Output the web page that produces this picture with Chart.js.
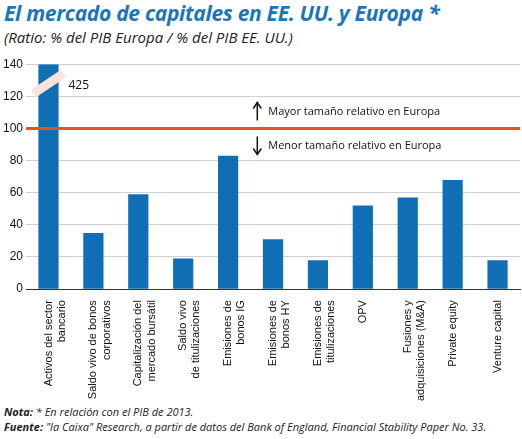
<!DOCTYPE html>
<html lang="es">
<head>
<meta charset="UTF-8">
<title>El mercado de capitales en EE. UU. y Europa</title>
<style>
    * { box-sizing: border-box; margin: 0; padding: 0; }
    body { width: 522px; height: 439px; background: #fff; font-family: "Open Sans", Arial, sans-serif; position: relative; overflow: hidden; }
    h1 { position: absolute; left: 4px; top: -1px; font-size: 21px; font-style: italic; font-weight: bold; color: #1b75bc; letter-spacing: -0.3px; }
    .sub { position: absolute; left: 4px; top: 27px; font-size: 15px; font-style: italic; color: #222; }
    #wrap { position: absolute; left: 0; top: 54px; width: 522px; height: 350px; }
    .notes { position: absolute; left: 4px; top: 404px; font-size: 11px; font-style: italic; color: #222; line-height: 15px; }
</style>
<script src="https://cdn.jsdelivr.net/npm/chart.js"></script>
</head>
<body>
<h1>El mercado de capitales en EE. UU. y Europa *</h1>
<div class="sub">(Ratio: % del PIB Europa / % del PIB EE. UU.)</div>
<div id="wrap"><canvas id="c"></canvas></div>
<div class="notes">
    <b>Nota:</b> * En relación con el PIB de 2013.<br>
    <b>Fuente:</b> "la Caixa" Research, a partir de datos del Bank of England, Financial Stability Paper No. 33.
</div>
<script>
const categories = [
    ['Activos del sector', 'bancario'],
    ['Saldo vivo de bonos', 'corporativos'],
    ['Capitalización del', 'mercado bursátil'],
    ['Saldo vivo', 'de titulizaciones'],
    ['Emisiones de', 'bonos IG'],
    ['Emisiones de', 'bonos HY'],
    ['Emisiones de', 'titulizaciones'],
    'OPV',
    ['Fusiones y', 'adquisiciones (M&A)'],
    'Private equity',
    'Venture capital'
];
const ratios = [425, 35, 59, 19, 83, 31, 18, 52, 57, 68, 18];
const yMax = 140;
const refLevel = 100;

const overlay = {
    id: 'overlay',
    afterDatasetsDraw(chart) {
        const { ctx, scales: { x, y }, chartArea } = chart;
        ctx.save();
        // reference line at 100
        const yr = y.getPixelForValue(refLevel);
        ctx.strokeStyle = '#e0541f';
        ctx.lineWidth = 3;
        ctx.beginPath(); ctx.moveTo(chartArea.left, yr); ctx.lineTo(chartArea.right, yr); ctx.stroke();
        // break mark on the clipped bar
        const bx = x.getPixelForValue(0);
        const by = y.getPixelForValue(128);
        ctx.strokeStyle = '#fbe3dc';
        ctx.lineWidth = 9;
        ctx.beginPath(); ctx.moveTo(bx - 15, by + 10); ctx.lineTo(bx + 15, by - 10); ctx.stroke();
        ctx.fillStyle = '#111';
        ctx.font = '12px "Open Sans", sans-serif';
        ctx.textBaseline = 'middle';
        ctx.fillText(String(ratios[0]), bx + 20, y.getPixelForValue(127));
        // arrows and labels
        const ax = x.getPixelForValue(4.65);
        ctx.strokeStyle = '#111'; ctx.lineWidth = 1.5;
        const arrow = (y0, y1) => {
            ctx.beginPath(); ctx.moveTo(ax, y0); ctx.lineTo(ax, y1); ctx.stroke();
            const d = y1 < y0 ? 1 : -1;
            ctx.beginPath(); ctx.moveTo(ax - 4, y1 + d * 6); ctx.lineTo(ax, y1); ctx.lineTo(ax + 4, y1 + d * 6); ctx.stroke();
        };
        arrow(yr - 8, yr - 26);
        arrow(yr + 8, yr + 26);
        ctx.font = '11px "Open Sans", sans-serif';
        ctx.fillText('Mayor tamaño relativo en Europa', ax + 11, yr - 17);
        ctx.fillText('Menor tamaño relativo en Europa', ax + 11, yr + 17);
        ctx.restore();
    }
};

new Chart(document.getElementById('c'), {
    type: 'bar',
    data: {
        labels: categories,
        datasets: [{
            data: ratios.map(v => Math.min(v, yMax)),
            backgroundColor: '#0f6eb4',
            barPercentage: 0.45,
            categoryPercentage: 1
        }]
    },
    options: {
        responsive: true,
        maintainAspectRatio: false,
        animation: false,
        layout: { padding: { right: 2, top: 6 } },
        plugins: { legend: { display: false }, tooltip: { enabled: false } },
        scales: {
            y: {
                min: 0, max: yMax,
                ticks: { stepSize: 20, color: '#111', font: { size: 12 } },
                grid: { color: '#d0d0d0', drawTicks: false },
                border: { display: false }
            },
            x: {
                grid: { display: false },
                border: { color: '#333' },
                ticks: { maxRotation: 90, minRotation: 90, color: '#111', font: { size: 11 }, autoSkip: false }
            }
        }
    },
    plugins: [overlay]
});
</script>
</body>
</html>
